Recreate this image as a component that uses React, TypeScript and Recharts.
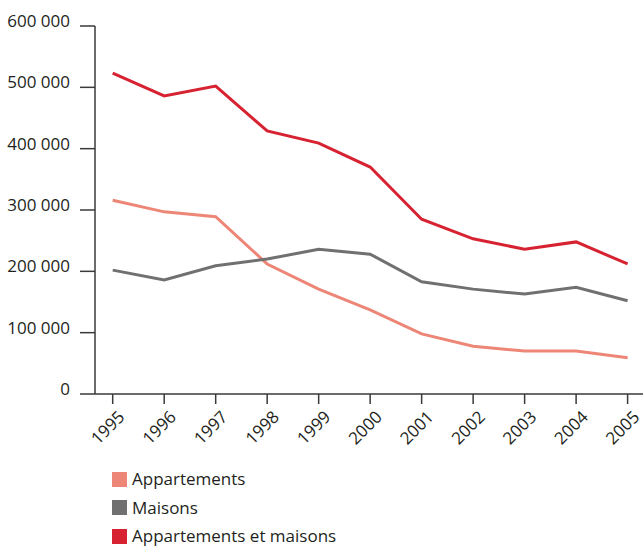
import { LineChart, Line, XAxis, YAxis, Legend } from "recharts"

const years = ["1995", "1996", "1997", "1998", "1999", "2000", "2001", "2002", "2003", "2004", "2005"]
const appartements = [316000, 297000, 289000, 212000, 171000, 137000, 98000, 78000, 70000, 70000, 59000]
const maisons = [202000, 186000, 209000, 220000, 236000, 228000, 183000, 171000, 163000, 174000, 152000]
const total = [523000, 486000, 502000, 429000, 409000, 370000, 285000, 253000, 236000, 248000, 212000]
const yTicks = [0, 100000, 200000, 300000, 400000, 500000, 600000]
const legendOrder = ["Appartements", "Maisons", "Appartements et maisons"]

const data = years.map((year, i) => ({
  year,
  appartements: appartements[i],
  maisons: maisons[i],
  total: total[i],
}))

const font = "'Open Sans', sans-serif"
const ink = "#231f20"
const axisColor = "#3a3a3a"

const fmt = (v: number) => String(v).replace(/\B(?=(\d{3})+(?!\d))/g, " ")

const YTick = ({ x, y, payload }: any) => (
  <text x={x} y={y} dy={1} textAnchor="end" fill={ink} fontSize={17} fontFamily={font}>
    {fmt(payload.value)}
  </text>
)

const XTick = ({ x, y, payload }: any) => {
  const ax = x + 13
  const ay = y + 14
  return (
    <text
      x={ax}
      y={ay}
      textAnchor="end"
      transform={`rotate(-45, ${ax}, ${ay})`}
      fill={ink}
      fontSize={17}
      fontFamily={font}
    >
      {payload.value}
    </text>
  )
}

const LegendContent = ({ payload }: any) => {
  const items = [...(payload || [])].sort(
    (a: any, b: any) => legendOrder.indexOf(a.value) - legendOrder.indexOf(b.value)
  )
  return (
    <div style={{ fontFamily: font, fontSize: 17, color: ink }}>
      {items.map((p: any) => (
        <div key={p.value} style={{ display: "flex", alignItems: "center", height: 28.5 }}>
          <span style={{ width: 15, height: 15, background: p.color, marginRight: 5, display: "inline-block" }} />
          <span style={{ lineHeight: "28px", whiteSpace: "nowrap" }}>{p.value}</span>
        </div>
      ))}
    </div>
  )
}

export default function App() {
  return (
    <div style={{ position: "absolute", left: 0, top: 0 }}>
      <LineChart width={643} height={548} data={data} margin={{ top: 26, right: 0, left: 0, bottom: 0 }}>
        <XAxis
          dataKey="year"
          height={154}
          padding={{ left: 17.7, right: 15.4 }}
          stroke={axisColor}
          strokeWidth={1.5}
          tickSize={10}
          tickMargin={0}
          tick={<XTick />}
          interval={0}
        />
        <YAxis
          width={95}
          domain={[0, 600000]}
          ticks={yTicks}
          stroke={axisColor}
          strokeWidth={1.5}
          tickSize={15}
          tickMargin={10}
          tick={<YTick />}
          interval={0}
        />
        <Legend
          layout="vertical"
          verticalAlign="bottom"
          content={<LegendContent />}
          wrapperStyle={{ top: 465, left: 112, width: 300, height: 0 }}
        />
        <Line
          type="linear"
          dataKey="appartements"
          name="Appartements"
          stroke="#ed8677"
          strokeWidth={3}
          dot={false}
          isAnimationActive={false}
        />
        <Line
          type="linear"
          dataKey="maisons"
          name="Maisons"
          stroke="#707070"
          strokeWidth={3}
          dot={false}
          isAnimationActive={false}
        />
        <Line
          type="linear"
          dataKey="total"
          name="Appartements et maisons"
          stroke="#d62231"
          strokeWidth={3}
          dot={false}
          isAnimationActive={false}
        />
      </LineChart>
    </div>
  )
}
